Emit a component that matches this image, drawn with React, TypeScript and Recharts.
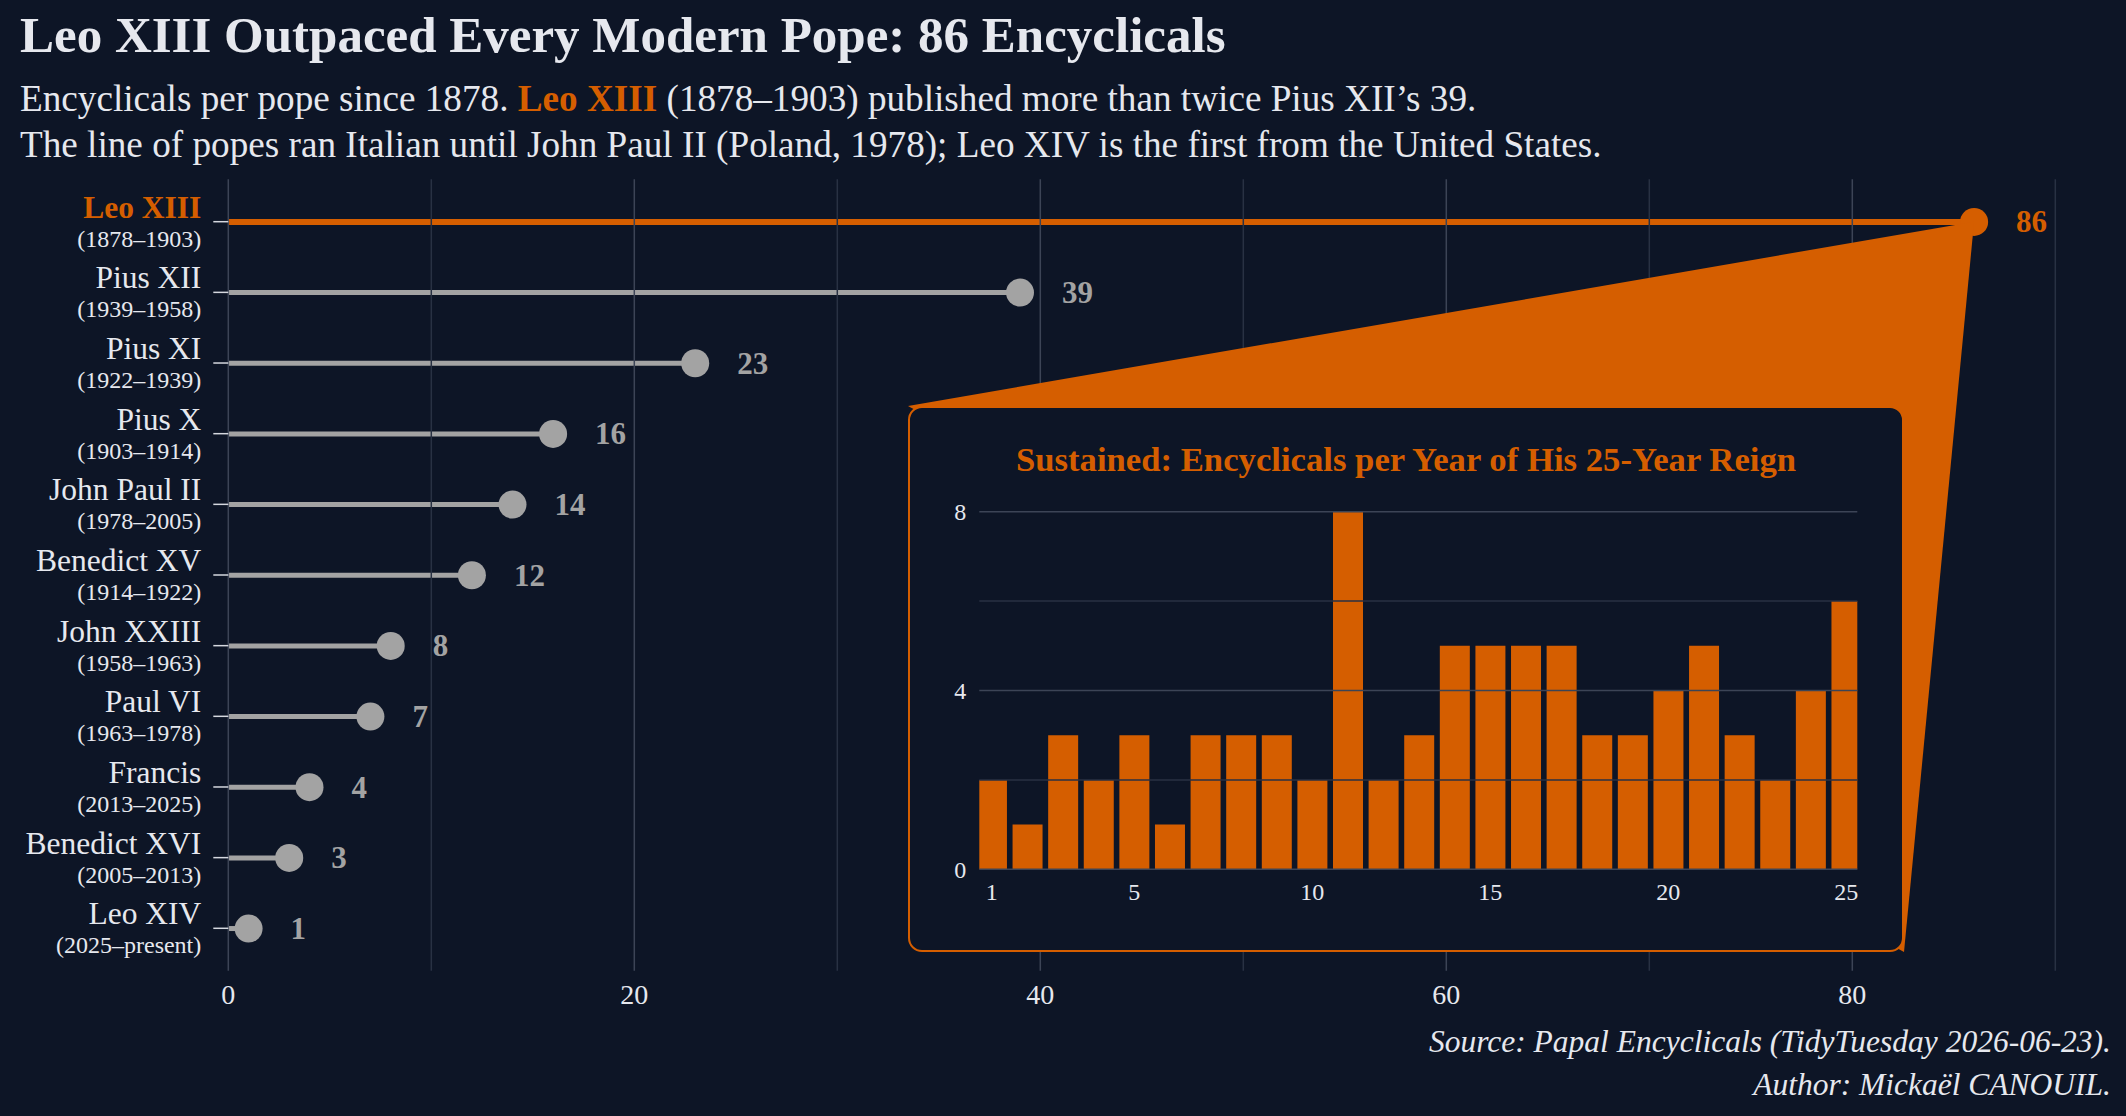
import React from 'react';
import {
  ComposedChart,
  BarChart,
  Bar,
  XAxis,
  YAxis,
  ReferenceLine,
  ReferenceDot,
  LabelList,
} from 'recharts';

const popes = [
  'Leo XIII',
  'Pius XII',
  'Pius XI',
  'Pius X',
  'John Paul II',
  'Benedict XV',
  'John XXIII',
  'Paul VI',
  'Francis',
  'Benedict XVI',
  'Leo XIV',
];
const reigns = [
  '1878–1903',
  '1939–1958',
  '1922–1939',
  '1903–1914',
  '1978–2005',
  '1914–1922',
  '1958–1963',
  '1963–1978',
  '2013–2025',
  '2005–2013',
  '2025–present',
];
const encyclicals = [86, 39, 23, 16, 14, 12, 8, 7, 4, 3, 1];

// Leo XIII, encyclicals per year of reign
const reignYear = [1, 2, 3, 4, 5, 6, 7, 8, 9, 10, 11, 12, 13, 14, 15, 16, 17, 18, 19, 20, 21, 22, 23, 24, 25];
const perYear = [2, 1, 3, 2, 3, 1, 3, 3, 3, 2, 8, 2, 3, 5, 5, 5, 5, 3, 3, 4, 5, 3, 2, 4, 6];

const xTicks = [0, 20, 40, 60, 80];
const xMinor = [10, 30, 50, 70, 90];
const insetXTicks = [1, 5, 10, 15, 20, 25];
const insetYTicks = [0, 4, 8];
const insetYMinor = [2, 6];

const HIGHLIGHT = 'Leo XIII';

const BG = '#0d1526';
const ORANGE = '#d55e00';
const GRAY = '#a3a3a3';
const TEXT = '#e6e8ee';
const GRID_MAJOR = '#3c4456';
const GRID_MINOR = '#283143';
const FONT = '"Liberation Serif", "DejaVu Serif", serif';

// inset panel box, page coordinates
const BOX = { left: 908, top: 406, width: 996, height: 546 };

const popeData = popes.map((name, i) => ({ name, reign: reigns[i], count: encyclicals[i] }));
const insetData = reignYear.map((year, i) => ({ year, count: perYear[i] }));

function PopeTick({ x, y, payload, index }: any) {
  const hl = payload.value === HIGHLIGHT;
  const reign = reigns[index] ?? popeData.find((p) => p.name === payload.value)?.reign;
  return (
    <g>
      <line x1={x - 15} x2={x} y1={y} y2={y} stroke="#d5d8df" strokeWidth={1.5} />
      <text
        x={x - 27}
        y={y - 4}
        textAnchor="end"
        fontFamily={FONT}
        fontSize={31.5}
        fontWeight={hl ? 700 : 400}
        fill={hl ? ORANGE : TEXT}
      >
        {payload.value}
      </text>
      <text x={x - 27} y={y + 25} textAnchor="end" fontFamily={FONT} fontSize={24} fill={TEXT}>
        ({reign})
      </text>
    </g>
  );
}

function Lollipop({ x, y, width, height, payload }: any) {
  const hl = payload.name === HIGHLIGHT;
  const color = hl ? ORANGE : GRAY;
  const cy = y + height / 2;
  return (
    <g>
      <line x1={x} x2={x + width} y1={cy} y2={cy} stroke={color} strokeWidth={hl ? 6 : 5} />
      <circle cx={x + width} cy={cy} r={14} fill={color} />
    </g>
  );
}

function ValueLabel({ x, y, width, height, value, index }: any) {
  const hl = popes[index] === HIGHLIGHT;
  return (
    <text
      x={x + width + 42}
      y={y + height / 2 + 10.5}
      fontFamily={FONT}
      fontSize={31}
      fontWeight={700}
      fill={hl ? ORANGE : GRAY}
    >
      {value}
    </text>
  );
}

// wedge from the Leo XIII dot out to the inset panel
function Wedge({ cx, cy }: any) {
  const pts = `${cx},${cy} ${BOX.left},${BOX.top} ${BOX.left + BOX.width},${BOX.top + BOX.height}`;
  return <polygon points={pts} fill={ORANGE} />;
}

export default function App() {
  return (
    <div
      style={{
        position: 'absolute',
        left: 0,
        top: 0,
        width: 2126,
        height: 1116,
        background: BG,
        overflow: 'hidden',
        fontFamily: FONT,
        color: TEXT,
      }}
    >
      <div style={{ position: 'absolute', left: 0, top: 0 }}>
        <ComposedChart
          layout="vertical"
          width={2126}
          height={1116}
          data={popeData}
          margin={{ top: 179.3, right: 9.8, bottom: 85.3, left: 0 }}
        >
          <XAxis
            type="number"
            domain={[0, 93]}
            ticks={xTicks}
            axisLine={false}
            tickLine={false}
            tickSize={0}
            tickMargin={13}
            height={60}
            tick={{ fill: TEXT, fontSize: 28, fontFamily: FONT }}
          />
          <YAxis
            type="category"
            dataKey="name"
            width={228.3}
            interval={0}
            axisLine={false}
            tickLine={false}
            tickSize={0}
            tickMargin={0}
            padding={{ top: 7.07, bottom: 7.07 }}
            tick={<PopeTick />}
          />
          {xMinor.map((v) => (
            <ReferenceLine key={`m${v}`} x={v} stroke={GRID_MINOR} strokeWidth={1.5} />
          ))}
          {xTicks.map((v) => (
            <ReferenceLine key={`M${v}`} x={v} stroke={GRID_MAJOR} strokeWidth={1.5} />
          ))}
          <ReferenceDot x={86} y={HIGHLIGHT} r={14} shape={<Wedge />} />
          <Bar dataKey="count" shape={<Lollipop />} isAnimationActive={false}>
            <LabelList dataKey="count" content={<ValueLabel />} />
          </Bar>
        </ComposedChart>
      </div>

      <div
        style={{
          position: 'absolute',
          left: 20,
          top: 10,
          fontSize: 51,
          lineHeight: 1,
          fontWeight: 700,
          whiteSpace: 'nowrap',
        }}
      >
        Leo XIII Outpaced Every Modern Pope: 86 Encyclicals
      </div>
      <div style={{ position: 'absolute', left: 20, top: 76, fontSize: 37.2, lineHeight: '46px', whiteSpace: 'nowrap' }}>
        <div>
          Encyclicals per pope since 1878. <span style={{ color: ORANGE, fontWeight: 700 }}>Leo XIII</span>{' '}
          (1878–1903) published more than twice Pius XII’s 39.
        </div>
        <div>The line of popes ran Italian until John Paul II (Poland, 1978); Leo XIV is the first from the United States.</div>
      </div>

      <div
        style={{
          position: 'absolute',
          left: BOX.left,
          top: BOX.top,
          width: BOX.width,
          height: BOX.height,
          boxSizing: 'border-box',
          border: `2px solid ${ORANGE}`,
          borderRadius: 14,
          background: BG,
        }}
      >
        <div
          style={{
            position: 'absolute',
            left: 0,
            top: 35,
            width: '100%',
            textAlign: 'center',
            fontSize: 34.7,
            lineHeight: 1,
            fontWeight: 700,
            color: ORANGE,
            whiteSpace: 'nowrap',
          }}
        >
          Sustained: Encyclicals per Year of His 25-Year Reign
        </div>
        <div style={{ position: 'absolute', left: 0, top: 0 }}>
          <BarChart
            width={992}
            height={542}
            data={insetData}
            margin={{ top: 103.7, right: 44.7, bottom: 40.7, left: 0 }}
          >
            <XAxis
              type="number"
              dataKey="year"
              domain={[0.65, 25.31]}
              allowDataOverflow
              ticks={insetXTicks}
              axisLine={false}
              tickLine={false}
              tickSize={0}
              tickMargin={14}
              height={40}
              tick={{ fill: TEXT, fontSize: 24, fontFamily: FONT }}
            />
            <YAxis
              type="number"
              domain={[0, 8]}
              ticks={insetYTicks}
              width={69.3}
              axisLine={false}
              tickLine={false}
              tickSize={0}
              tickMargin={13}
              tick={{ fill: TEXT, fontSize: 24, fontFamily: FONT }}
            />
            {insetYMinor.map((v) => (
              <ReferenceLine key={`m${v}`} y={v} stroke={GRID_MINOR} strokeWidth={1.5} />
            ))}
            {insetYTicks.map((v) => (
              <ReferenceLine key={`M${v}`} y={v} stroke={GRID_MAJOR} strokeWidth={1.5} />
            ))}
            <Bar dataKey="count" fill={ORANGE} barSize={30} isAnimationActive={false} />
          </BarChart>
        </div>
      </div>

      <div
        style={{
          position: 'absolute',
          right: 15,
          top: 1020,
          fontSize: 31.5,
          lineHeight: '43px',
          fontStyle: 'italic',
          textAlign: 'right',
          whiteSpace: 'nowrap',
        }}
      >
        <div>Source: Papal Encyclicals (TidyTuesday 2026-06-23).</div>
        <div>Author: Mickaël CANOUIL.</div>
      </div>
    </div>
  );
}
